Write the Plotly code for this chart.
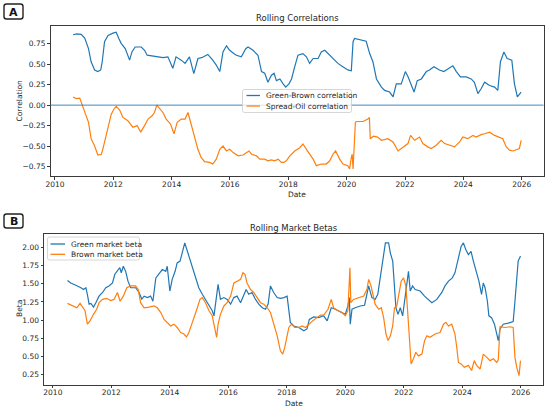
import pandas as pd
import plotly.graph_objects as go

W, H = 550, 410
FONT = "DejaVu Sans"
BLUE = "#1f77b4"
ORANGE = "#ff7f0e"
INK = "#262626"

# --- panel A: rolling correlations (decimal years) ---
gb_years = [
    2010.62, 2010.75, 2010.90, 2011.02, 2011.15, 2011.24, 2011.36, 2011.47, 2011.57, 2011.62,
    2011.70, 2011.82, 2011.99, 2012.10, 2012.19, 2012.27, 2012.41, 2012.56, 2012.64, 2012.75,
    2012.96, 2013.07, 2013.16, 2013.41, 2013.70, 2013.87, 2014.04, 2014.15, 2014.33, 2014.46,
    2014.61, 2014.76, 2014.90, 2015.03, 2015.24, 2015.41, 2015.53, 2015.65, 2015.76, 2015.88,
    2015.99, 2016.13, 2016.22, 2016.39, 2016.54, 2016.62, 2016.79, 2016.96, 2017.08, 2017.19,
    2017.30, 2017.42, 2017.51, 2017.59, 2017.71, 2017.82, 2017.91, 2018.02, 2018.11, 2018.22,
    2018.33, 2018.50, 2018.62, 2018.73, 2018.85, 2019.02, 2019.13, 2019.25, 2019.42, 2019.53,
    2019.70, 2019.87, 2020.04, 2020.16, 2020.22, 2020.27, 2020.45, 2020.67, 2020.79, 2020.90,
    2021.02, 2021.19, 2021.30, 2021.47, 2021.59, 2021.70, 2021.87, 2022.01, 2022.10, 2022.22,
    2022.31, 2022.42, 2022.56, 2022.73, 2022.84, 2022.99, 2023.18, 2023.33, 2023.49, 2023.64,
    2023.76, 2023.90, 2024.10, 2024.27, 2024.38, 2024.50, 2024.61, 2024.73, 2024.90, 2025.07,
    2025.18, 2025.27, 2025.39, 2025.50, 2025.66, 2025.75, 2025.85, 2025.92, 2025.98,
]
gb_corr = [
    0.86, 0.87, 0.865, 0.82, 0.69, 0.53, 0.43, 0.41, 0.43, 0.53,
    0.775, 0.85, 0.88, 0.89, 0.815, 0.755, 0.69, 0.55, 0.65, 0.71,
    0.71, 0.67, 0.61, 0.60, 0.58, 0.59, 0.45, 0.59, 0.55, 0.51,
    0.59, 0.385, 0.57, 0.58, 0.62, 0.55, 0.49, 0.41, 0.65, 0.725,
    0.67, 0.63, 0.61, 0.59, 0.69, 0.71, 0.67, 0.61, 0.41, 0.39,
    0.28, 0.365, 0.39, 0.30, 0.32, 0.26, 0.22, 0.26, 0.32, 0.47,
    0.61, 0.63, 0.59, 0.51, 0.57, 0.57, 0.65, 0.67, 0.61, 0.57,
    0.51, 0.47, 0.43, 0.42, 0.775, 0.815, 0.80, 0.78, 0.63, 0.53,
    0.32, 0.22, 0.18, 0.16, 0.10, 0.26, 0.26, 0.41, 0.35, 0.24,
    0.16, 0.30, 0.32, 0.41, 0.43, 0.47, 0.43, 0.41, 0.45, 0.48,
    0.41, 0.345, 0.345, 0.32, 0.28, 0.14, 0.20, 0.28, 0.24, 0.22,
    0.18, 0.53, 0.65, 0.57, 0.55, 0.26, 0.10, 0.14, 0.16,
]

so_years = [
    2010.62, 2010.73, 2010.85, 2010.93, 2011.04, 2011.15, 2011.24, 2011.36, 2011.47, 2011.59,
    2011.64, 2011.76, 2011.84, 2011.93, 2012.02, 2012.10, 2012.22, 2012.33, 2012.50, 2012.67,
    2012.82, 2012.94, 2013.07, 2013.19, 2013.33, 2013.41, 2013.49, 2013.56, 2013.70, 2013.81,
    2013.96, 2014.08, 2014.19, 2014.33, 2014.46, 2014.56, 2014.65, 2014.78, 2014.90, 2015.01,
    2015.13, 2015.30, 2015.41, 2015.53, 2015.65, 2015.76, 2015.88, 2015.99, 2016.11, 2016.28,
    2016.45, 2016.65, 2016.74, 2016.91, 2017.02, 2017.19, 2017.30, 2017.42, 2017.53, 2017.65,
    2017.76, 2017.84, 2017.93, 2018.05, 2018.22, 2018.39, 2018.50, 2018.62, 2018.73, 2018.85,
    2018.96, 2019.13, 2019.30, 2019.42, 2019.53, 2019.62, 2019.76, 2019.87, 2020.04, 2020.10,
    2020.16, 2020.19, 2020.22, 2020.27, 2020.30, 2020.34, 2020.56, 2020.73, 2020.78, 2020.81,
    2020.92, 2021.06, 2021.19, 2021.41, 2021.59, 2021.76, 2021.93, 2022.10, 2022.19, 2022.33,
    2022.50, 2022.61, 2022.78, 2022.90, 2023.07, 2023.24, 2023.36, 2023.53, 2023.70, 2023.87,
    2023.98, 2024.15, 2024.33, 2024.44, 2024.61, 2024.73, 2024.90, 2025.07, 2025.24, 2025.35,
    2025.47, 2025.58, 2025.70, 2025.81, 2025.92, 2025.98,
]
so_corr = [
    0.10, 0.08, 0.085, 0.0, -0.11, -0.21, -0.41, -0.50, -0.61, -0.60,
    -0.54, -0.37, -0.25, -0.11, -0.05, -0.015, -0.06, -0.15, -0.19, -0.27,
    -0.25, -0.33, -0.25, -0.17, -0.13, -0.09, 0.0, -0.03, -0.09, -0.17,
    -0.23, -0.35, -0.21, -0.17, -0.17, -0.09, -0.21, -0.37, -0.54, -0.64,
    -0.69, -0.70, -0.72, -0.66, -0.54, -0.50, -0.56, -0.54, -0.58, -0.62,
    -0.61, -0.56, -0.60, -0.62, -0.66, -0.66, -0.68, -0.67, -0.68, -0.66,
    -0.70, -0.70, -0.68, -0.62, -0.56, -0.52, -0.475, -0.54, -0.60, -0.66,
    -0.74, -0.72, -0.72, -0.68, -0.60, -0.56, -0.66, -0.72, -0.74, -0.78,
    -0.64, -0.60, -0.78, -0.37, -0.21, -0.20, -0.20, -0.17, -0.15, -0.41,
    -0.38, -0.39, -0.43, -0.41, -0.45, -0.56, -0.52, -0.47, -0.37, -0.43,
    -0.39, -0.47, -0.51, -0.53, -0.49, -0.43, -0.47, -0.49, -0.51, -0.45,
    -0.39, -0.41, -0.37, -0.39, -0.36, -0.35, -0.33, -0.37, -0.39, -0.41,
    -0.51, -0.55, -0.56, -0.54, -0.53, -0.43,
]

# --- panel B: rolling market betas ---
green_years = [
    2010.50, 2010.61, 2010.73, 2010.84, 2010.96, 2011.05, 2011.13, 2011.18, 2011.24, 2011.30,
    2011.39, 2011.47, 2011.58, 2011.70, 2011.81, 2011.92, 2012.04, 2012.12, 2012.21, 2012.29,
    2012.34, 2012.41, 2012.49, 2012.57, 2012.66, 2012.83, 2012.95, 2013.04, 2013.12, 2013.23,
    2013.34, 2013.42, 2013.52, 2013.63, 2013.74, 2013.86, 2013.91, 2014.00, 2014.08, 2014.18,
    2014.25, 2014.35, 2014.43, 2014.51, 2014.60, 2014.69, 2014.77, 2014.88, 2014.99, 2015.11,
    2015.22, 2015.34, 2015.45, 2015.51, 2015.56, 2015.65, 2015.73, 2015.85, 2015.96, 2016.08,
    2016.19, 2016.30, 2016.42, 2016.53, 2016.61, 2016.70, 2016.81, 2016.93, 2017.04, 2017.16,
    2017.27, 2017.36, 2017.44, 2017.55, 2017.67, 2017.78, 2017.90, 2018.01, 2018.07, 2018.12,
    2018.24, 2018.41, 2018.58, 2018.69, 2018.77, 2018.92, 2019.09, 2019.26, 2019.38, 2019.52,
    2019.66, 2019.77, 2019.91, 2020.00, 2020.09, 2020.14, 2020.17, 2020.23, 2020.34, 2020.51,
    2020.66, 2020.74, 2020.80, 2020.91, 2021.02, 2021.11, 2021.19, 2021.27, 2021.37, 2021.48,
    2021.54, 2021.62, 2021.68, 2021.73, 2021.80, 2021.88, 2021.96, 2022.05, 2022.16, 2022.22,
    2022.30, 2022.39, 2022.56, 2022.71, 2022.84, 2022.96, 2023.13, 2023.30, 2023.41, 2023.53,
    2023.66, 2023.75, 2023.87, 2023.96, 2024.04, 2024.12, 2024.21, 2024.30, 2024.38, 2024.49,
    2024.57, 2024.66, 2024.72, 2024.78, 2024.86, 2024.91, 2025.00, 2025.10, 2025.18, 2025.23,
    2025.29, 2025.40, 2025.57, 2025.74, 2025.80, 2025.86, 2025.91, 2025.99,
]
green_beta = [
    1.545, 1.51, 1.49, 1.47, 1.445, 1.42, 1.445, 1.355, 1.22, 1.23,
    1.18, 1.24, 1.33, 1.38, 1.445, 1.47, 1.51, 1.63, 1.67, 1.72,
    1.65, 1.74, 1.67, 1.535, 1.445, 1.445, 1.38, 1.29, 1.33, 1.31,
    1.33, 1.26, 1.58, 1.63, 1.695, 1.67, 1.74, 1.40, 1.56, 1.67,
    1.785, 1.81, 1.945, 2.06, 1.945, 1.83, 1.695, 1.58, 1.445, 1.355,
    1.28, 1.21, 1.13, 1.06, 1.195, 1.49, 1.285, 1.31, 1.285, 1.22,
    1.31, 1.33, 1.24, 1.355, 1.42, 1.355, 1.38, 1.285, 1.22, 1.17,
    1.15, 1.22, 1.47, 1.38, 1.31, 1.30, 1.31, 1.33, 1.17, 0.97,
    0.92, 0.90, 0.855, 0.88, 1.01, 1.045, 1.035, 1.06, 0.99, 1.17,
    1.15, 1.13, 1.105, 1.08, 1.195, 1.31, 0.945, 1.15, 1.17, 1.195,
    1.205, 1.355, 1.47, 1.31, 1.285, 1.355, 1.58, 1.81, 2.06, 2.06,
    1.92, 1.81, 1.40, 1.17, 1.08, 1.17, 1.06, 1.355, 1.67, 1.40,
    1.47, 1.42, 1.40, 1.33, 1.285, 1.24, 1.285, 1.38, 1.47, 1.535,
    1.58, 1.65, 1.855, 2.01, 2.06, 1.97, 1.90, 1.945, 1.81, 1.67,
    1.535, 1.355, 1.51, 1.445, 1.26, 1.06, 1.035, 0.945, 0.81, 0.72,
    0.88, 0.945, 0.96, 0.98, 1.26, 1.58, 1.81, 1.88,
]

brown_years = [
    2010.50, 2010.67, 2010.82, 2010.93, 2011.01, 2011.10, 2011.18, 2011.27, 2011.39, 2011.50,
    2011.58, 2011.70, 2011.84, 2011.98, 2012.09, 2012.21, 2012.30, 2012.41, 2012.53, 2012.66,
    2012.83, 2012.92, 2013.00, 2013.12, 2013.29, 2013.46, 2013.57, 2013.69, 2013.80, 2013.91,
    2014.03, 2014.14, 2014.25, 2014.37, 2014.48, 2014.57, 2014.65, 2014.77, 2014.85, 2014.94,
    2015.03, 2015.11, 2015.22, 2015.34, 2015.45, 2015.54, 2015.60, 2015.65, 2015.73, 2015.85,
    2015.96, 2016.08, 2016.19, 2016.30, 2016.42, 2016.50, 2016.57, 2016.64, 2016.76, 2016.87,
    2016.99, 2017.10, 2017.21, 2017.33, 2017.44, 2017.55, 2017.67, 2017.78, 2017.86, 2017.93,
    2018.01, 2018.07, 2018.16, 2018.27, 2018.41, 2018.52, 2018.64, 2018.75, 2018.88, 2019.03,
    2019.15, 2019.26, 2019.41, 2019.52, 2019.60, 2019.72, 2019.89, 2020.00, 2020.09, 2020.16,
    2020.19, 2020.28, 2020.45, 2020.63, 2020.74, 2020.80, 2020.88, 2020.97, 2021.02, 2021.14,
    2021.23, 2021.31, 2021.39, 2021.46, 2021.54, 2021.62, 2021.68, 2021.76, 2021.84, 2021.91,
    2021.99, 2022.07, 2022.13, 2022.19, 2022.25, 2022.33, 2022.41, 2022.50, 2022.62, 2022.71,
    2022.79, 2022.90, 2023.07, 2023.24, 2023.36, 2023.44, 2023.53, 2023.64, 2023.75, 2023.81,
    2023.87, 2023.96, 2024.07, 2024.21, 2024.32, 2024.41, 2024.49, 2024.61, 2024.72, 2024.84,
    2024.95, 2025.06, 2025.18, 2025.23, 2025.29, 2025.46, 2025.63, 2025.74, 2025.80, 2025.86,
    2025.94, 2025.99,
]
brown_beta = [
    1.23, 1.195, 1.17, 1.23, 1.18, 1.13, 0.945, 0.99, 1.08, 1.15,
    1.24, 1.285, 1.30, 1.27, 1.285, 1.38, 1.26, 1.33, 1.445, 1.47,
    1.47, 1.42, 1.24, 1.17, 1.18, 1.195, 1.17, 1.105, 1.01, 0.97,
    0.92, 0.945, 0.90, 0.83, 0.81, 0.77, 0.83, 0.97, 1.08, 1.17,
    1.285, 1.31, 1.24, 1.13, 1.06, 0.90, 0.765, 0.945, 1.08, 1.195,
    1.24, 1.33, 1.51, 1.535, 1.56, 1.65, 1.63, 1.51, 1.42, 1.38,
    1.31, 1.24, 1.22, 1.17, 1.105, 0.945, 0.785, 0.58, 0.535, 0.63,
    0.765, 0.90, 0.945, 0.90, 0.90, 0.92, 0.90, 0.945, 0.99, 1.035,
    1.07, 1.07, 1.15, 1.285, 1.17, 1.135, 1.105, 1.06, 1.13, 1.72,
    1.24, 1.285, 1.31, 1.33, 1.42, 1.56, 1.47, 1.33, 1.22, 1.15,
    1.17, 1.035, 0.81, 0.72, 0.785, 0.92, 1.17, 1.195, 1.355, 1.535,
    1.58, 1.47, 1.13, 0.72, 0.40, 0.47, 0.56, 0.51, 0.535, 0.72,
    0.785, 0.765, 0.81, 0.83, 0.945, 0.97, 0.92, 0.945, 0.81, 0.63,
    0.42, 0.40, 0.355, 0.38, 0.31, 0.445, 0.38, 0.33, 0.535, 0.49,
    0.445, 0.47, 0.42, 0.455, 0.91, 0.90, 0.91, 0.90, 0.49, 0.355,
    0.24, 0.445,
]

corr_ticks = [-0.75, -0.5, -0.25, 0.0, 0.25, 0.5, 0.75]
beta_ticks = [0.25, 0.5, 0.75, 1.0, 1.25, 1.5, 1.75, 2.0]


def to_dates(years):
    # decimal year -> timestamp
    return [pd.Timestamp(int(y), 1, 1) + pd.Timedelta(days=(y - int(y)) * 365.25) for y in years]


def X(v):
    return v / W


def Y(v):
    return 1 - v / H


def rounded_box(x0, y0, x1, y1, r):
    """Rounded rectangle in pixel coords, returned as a paper-space path."""
    return " ".join([
        f"M{X(x0 + r)},{Y(y0)}", f"L{X(x1 - r)},{Y(y0)}",
        f"Q{X(x1)},{Y(y0)} {X(x1)},{Y(y0 + r)}", f"L{X(x1)},{Y(y1 - r)}",
        f"Q{X(x1)},{Y(y1)} {X(x1 - r)},{Y(y1)}", f"L{X(x0 + r)},{Y(y1)}",
        f"Q{X(x0)},{Y(y1)} {X(x0)},{Y(y1 - r)}", f"L{X(x0)},{Y(y0 + r)}",
        f"Q{X(x0)},{Y(y0)} {X(x0 + r)},{Y(y0)}", "Z",
    ])


fig = go.Figure()
fig.add_trace(go.Scatter(x=to_dates(gb_years), y=gb_corr, mode="lines", name="Green-Brown correlation",
                         line=dict(color=BLUE, width=1.2), xaxis="x", yaxis="y"))
fig.add_trace(go.Scatter(x=to_dates(so_years), y=so_corr, mode="lines", name="Spread-Oil correlation",
                         line=dict(color=ORANGE, width=1.2), xaxis="x", yaxis="y"))
fig.add_trace(go.Scatter(x=to_dates(green_years), y=green_beta, mode="lines", name="Green market beta",
                         line=dict(color=BLUE, width=1.2), xaxis="x2", yaxis="y2"))
fig.add_trace(go.Scatter(x=to_dates(brown_years), y=brown_beta, mode="lines", name="Brown market beta",
                         line=dict(color=ORANGE, width=1.2), xaxis="x2", yaxis="y2"))

axis_style = dict(
    showline=True, linecolor="#3a3a3a", linewidth=1, mirror=True,
    ticks="outside", ticklen=2.5, tickwidth=1, tickcolor="#3a3a3a",
    showgrid=False, zeroline=False, automargin=False,
    tickfont=dict(family=FONT, size=7.5, color=INK),
)
date_style = dict(axis_style, type="date", tick0="2010-01-01", dtick="M24", tickformat="%Y",
                  ticklabelstandoff=-2)

fig.update_layout(
    width=W, height=H, autosize=False,
    margin=dict(l=0, r=0, t=0, b=0, pad=0),
    paper_bgcolor="white", plot_bgcolor="white",
    showlegend=False,
    font=dict(family=FONT, color=INK),
    xaxis=dict(date_style, domain=[X(50.5), X(543.5)], anchor="y",
               range=to_dates([2009.846, 2026.747])),
    yaxis=dict(axis_style, domain=[Y(176), Y(25.5)], anchor="x",
               range=[-0.866, 0.973], tickvals=corr_ticks, tickformat=".2f"),
    xaxis2=dict(date_style, domain=[X(44), X(543)], anchor="y2",
                range=to_dates([2009.696, 2026.76])),
    yaxis2=dict(axis_style, domain=[Y(384.7), Y(234)], anchor="x2",
                range=[0.115, 2.182], tickvals=beta_ticks, tickformat=".2f"),
)

# horizontal reference line at zero in panel A
fig.add_shape(type="line", xref="x domain", yref="y", x0=0, x1=1, y0=0, y1=0,
              line=dict(color=BLUE, width=1), opacity=0.85)


def text(x, y, s, size=7.5, color=INK, xanchor="center", **kw):
    fig.add_annotation(x=X(x), y=Y(y), xref="paper", yref="paper", text=s, showarrow=False,
                       xanchor=xanchor, yanchor="middle", borderpad=0,
                       font=dict(family=FONT, size=size, color=color), **kw)


# titles and axis labels
text(297, 18, "Rolling Correlations", size=8.5)
text(293.5, 227.5, "Rolling Market Betas", size=8.5)
text(18.5, 101, "Correlation", textangle=-90)
text(19, 309, "Beta", textangle=-90)
text(296.7, 194.5, "Date")
text(294, 403, "Date")

# panel letters in rounded boxes
for (y0, y1, letter) in [(4, 19, "A"), (214, 228, "B")]:
    fig.add_shape(type="path", xref="paper", yref="paper", path=rounded_box(4, y0, 23, y1, 2.5),
                  line=dict(color="#222222", width=1.4), fillcolor="white")
    text(13.5, (y0 + y1) / 2 + 0.5, "<b>" + letter + "</b>", size=11, color="#111111")

# legends, drawn as matplotlib-style framed boxes
legends = [
    (242.5, 89.5, 351.5, 112.5, 246.5, 260, 265,
     [(95.5, BLUE, "Green-Brown correlation"), (106, ORANGE, "Spread-Oil correlation")]),
    (47.5, 237, 139.5, 260, 50.5, 65, 70,
     [(244, BLUE, "Green market beta"), (254.3, ORANGE, "Brown market beta")]),
]
for (bx0, by0, bx1, by1, lx0, lx1, tx, rows) in legends:
    fig.add_shape(type="path", xref="paper", yref="paper", path=rounded_box(bx0, by0, bx1, by1, 2),
                  line=dict(color="#cccccc", width=0.8), fillcolor="rgba(255,255,255,0.8)")
    for (ry, col, label) in rows:
        fig.add_shape(type="line", xref="paper", yref="paper", x0=X(lx0), x1=X(lx1), y0=Y(ry), y1=Y(ry),
                      line=dict(color=col, width=1.3))
        text(tx, ry, label, xanchor="left")

fig.write_html("out.html", config={"displayModeBar": False},
               post_script="document.body.style.margin='0';")
